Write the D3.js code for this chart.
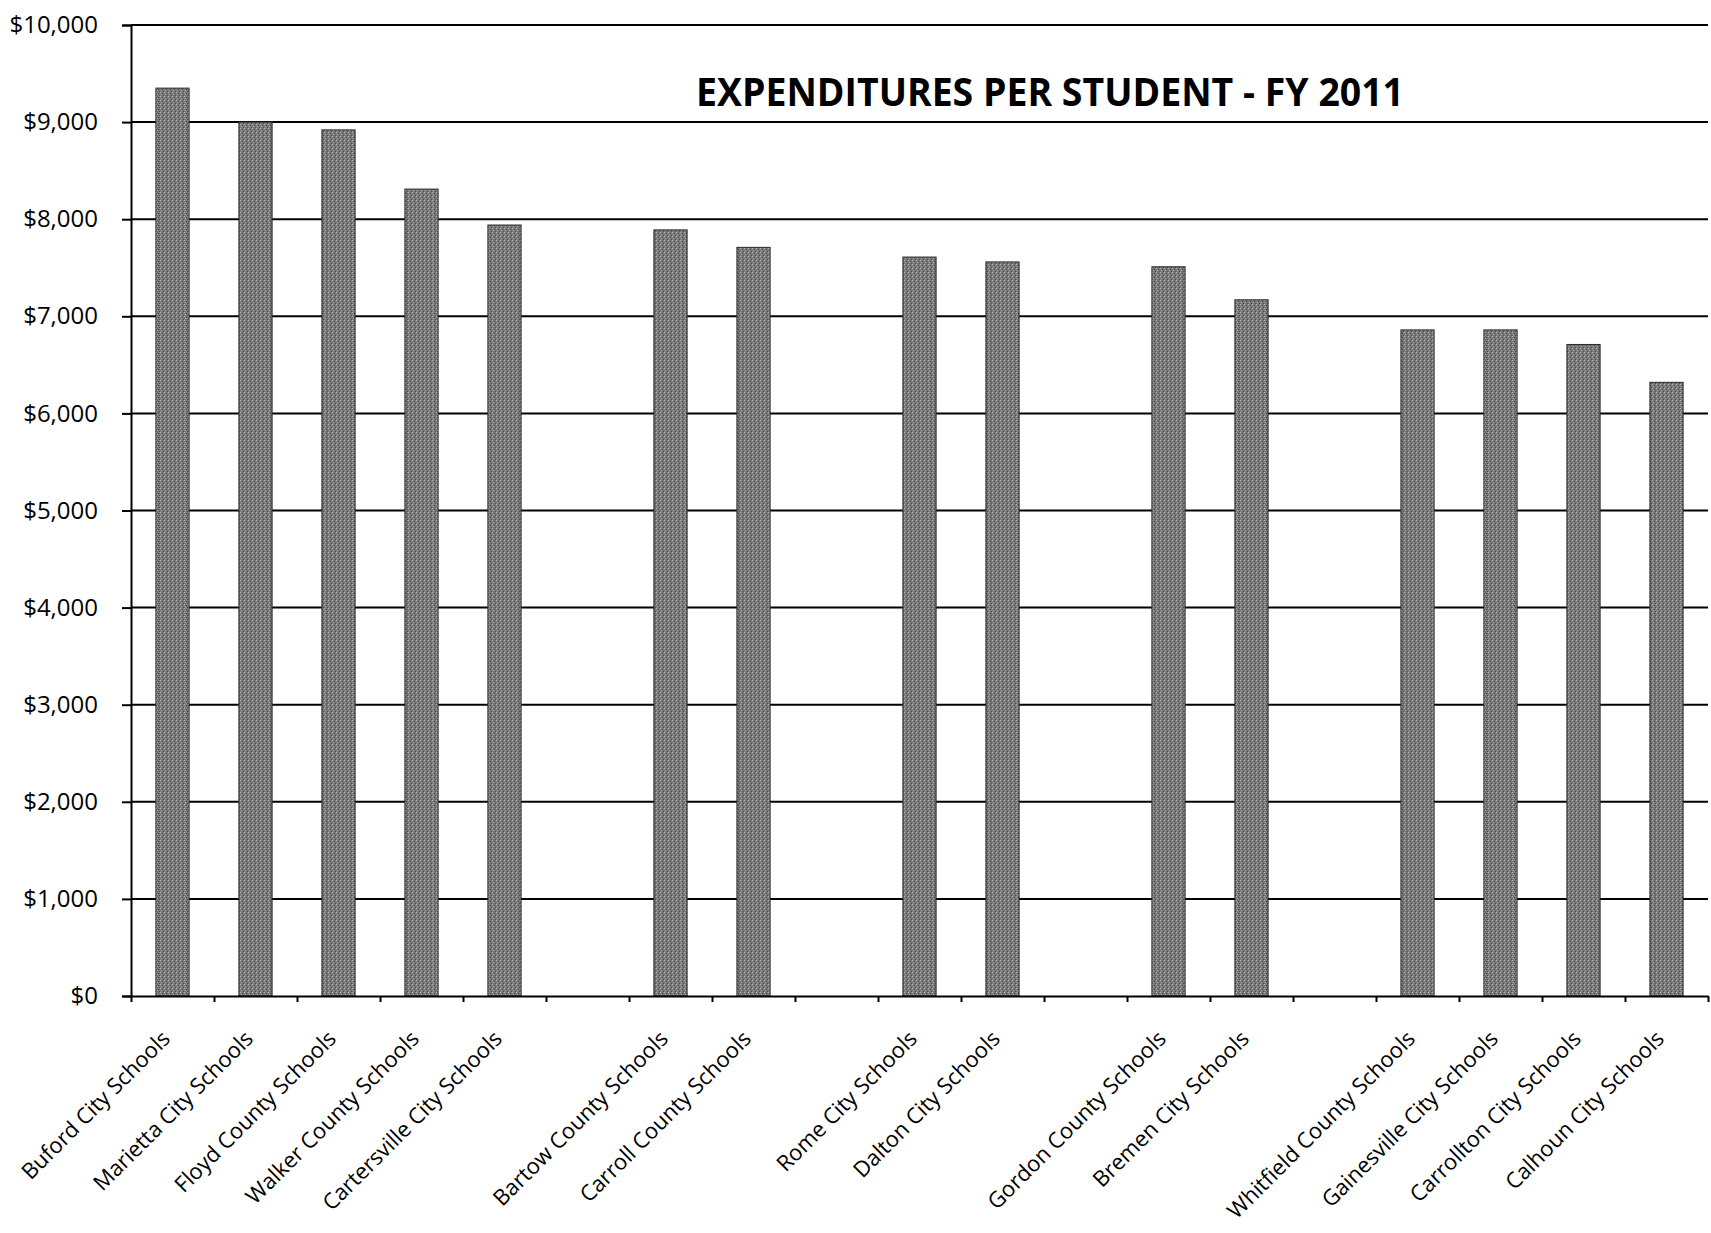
<!DOCTYPE html>
<html>
<head>
<meta charset="utf-8">
<script src="https://cdn.jsdelivr.net/npm/d3@7"></script>
<style>
    body { margin: 0; background: #fff; }
    .axis path, .axis line { stroke: #000; stroke-width: 2; }
    .axis text { font-family: 'Open Sans', sans-serif; fill: #000; }
</style>
</head>
<body>
<svg width="1711" height="1233"></svg>
<script>
// Schools in chart order; blank names are the empty slots on the axis
var schools = [
    'Buford City Schools', 'Marietta City Schools', 'Floyd County Schools',
    'Walker County Schools', 'Cartersville City Schools', '',
    'Bartow County Schools', 'Carroll County Schools', '',
    'Rome City Schools', 'Dalton City Schools', '',
    'Gordon County Schools', 'Bremen City Schools', '',
    'Whitfield County Schools', 'Gainesville City Schools',
    'Carrollton City Schools', 'Calhoun City Schools'
];

// Expenditures per student (dollars), null for empty slots
var spending = [9350, 9000, 8920, 8310, 7940, null, 7890, 7710, null,
    7610, 7560, null, 7510, 7170, null, 6860, 6860, 6710, 6320];

var yTicks = [0, 1000, 2000, 3000, 4000, 5000, 6000, 7000, 8000, 9000, 10000];

var titleText = 'EXPENDITURES PER STUDENT - FY 2011';

var svg = d3.select('svg');

var plot = {l: 131, r: 1708, t: 25, b: 996};

var xBand = d3.scaleBand()
    .domain(d3.range(schools.length))
    .range([plot.l, plot.r])
    .paddingInner(0.6)
    .paddingOuter(0.3);

// linear scale over slot boundaries, used for the tick marks
var xSlots = d3.scaleLinear()
    .domain([0, schools.length])
    .range([plot.l, plot.r]);

var y = d3.scaleLinear()
    .domain([0, 10000])
    .range([plot.b, plot.t]);

// halftone-ish gray fill like the scanned bars
var defs = svg.append('defs');
var pat = defs.append('pattern')
    .attr('id', 'grain')
    .attr('width', 4)
    .attr('height', 4)
    .attr('patternUnits', 'userSpaceOnUse');
pat.append('rect').attr('width', 4).attr('height', 4).attr('fill', '#7a7a7a');
pat.append('rect').attr('x', 0).attr('y', 0).attr('width', 1).attr('height', 1).attr('fill', '#b4b4b4');
pat.append('rect').attr('x', 2).attr('y', 1).attr('width', 1).attr('height', 1).attr('fill', '#424242');
pat.append('rect').attr('x', 1).attr('y', 2).attr('width', 1).attr('height', 1).attr('fill', '#a8a8a8');
pat.append('rect').attr('x', 3).attr('y', 3).attr('width', 1).attr('height', 1).attr('fill', '#4c4c4c');

// gridlines
svg.append('g')
    .selectAll('line')
    .data(yTicks.filter(d => d > 0))
    .enter()
    .append('line')
    .attr('x1', plot.l)
    .attr('x2', plot.r)
    .attr('y1', d => y(d))
    .attr('y2', d => y(d))
    .attr('stroke', '#000')
    .attr('stroke-width', 2);

// bars
svg.append('g')
    .selectAll('rect')
    .data(spending.map((v, i) => ({i: i, v: v})).filter(d => d.v !== null))
    .enter()
    .append('rect')
    .attr('x', d => xBand(d.i))
    .attr('y', d => y(d.v))
    .attr('width', xBand.bandwidth())
    .attr('height', d => y(0) - y(d.v))
    .attr('fill', 'url(#grain)')
    .attr('stroke', '#2a2a2a')
    .attr('stroke-width', 1);

// y axis
var yAxis = d3.axisLeft(y)
    .tickValues(yTicks)
    .tickSize(9)
    .tickPadding(24)
    .tickFormat(d3.format('$,'));

svg.append('g')
    .attr('class', 'axis')
    .attr('transform', `translate(${plot.l}, 0)`)
    .call(yAxis)
    .call(g => g.selectAll('text').style('font-size', '24px'));

// x axis with ticks at slot boundaries
var xAxis = d3.axisBottom(xSlots)
    .tickValues(d3.range(schools.length + 1))
    .tickSize(6)
    .tickSizeOuter(0)
    .tickFormat('');

svg.append('g')
    .attr('class', 'axis')
    .attr('transform', `translate(0, ${plot.b})`)
    .call(xAxis);

// rotated category labels
svg.append('g')
    .selectAll('text')
    .data(schools.map((s, i) => ({i: i, s: s})).filter(d => d.s !== ''))
    .enter()
    .append('text')
    .attr('text-anchor', 'end')
    .attr('transform', d => `translate(${xBand(d.i) + xBand.bandwidth() / 2 - 1}, 1040) rotate(-45)`)
    .style('font-family', "'Open Sans', sans-serif")
    .style('font-size', '22px')
    .text(d => d.s);

// title
svg.append('text')
    .attr('x', 1050)
    .attr('y', 106)
    .attr('text-anchor', 'middle')
    .attr('textLength', 708)
    .attr('lengthAdjust', 'spacingAndGlyphs')
    .style('font-family', "'Open Sans', sans-serif")
    .style('font-weight', 'bold')
    .style('font-size', '40px')
    .text(titleText);
</script>
</body>
</html>
